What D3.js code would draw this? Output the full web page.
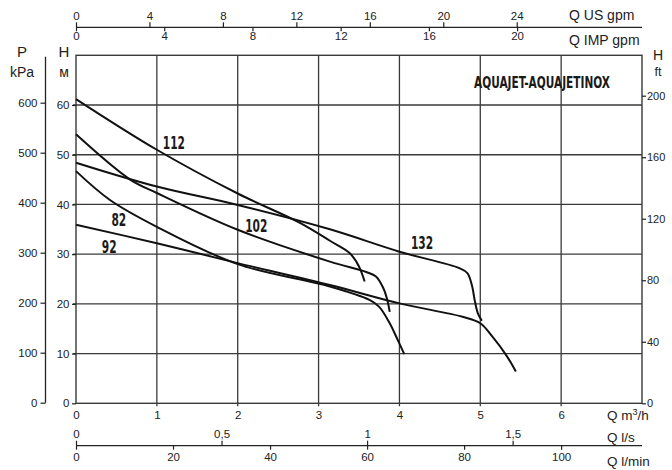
<!DOCTYPE html>
<html>
<head>
<meta charset="utf-8">
<script src="https://cdn.jsdelivr.net/npm/d3@7"></script>
<style>
  body { margin: 0; background: #fff; }
  text { font-family: "Liberation Sans", Arial, sans-serif; fill: #222; }
  .cond { font-family: "DejaVu Sans Condensed", "DejaVu Sans", sans-serif; font-stretch: condensed; fill: #1a1a1a; }
</style>
</head>
<body>
<div id="chart"></div>
<script>
// pump curves, Q in m3/h, H in m
const models = ["82", "92", "102", "112", "132"];
const q82 = [0, 0.42, 1, 2, 3.14, 3.63, 3.75, 3.88, 3.98, 4.06];
const h82 = [46.7, 40.9, 35.5, 28.0, 23.5, 20.8, 19.4, 16.1, 12.7, 9.9];
const q92 = [0, 1, 2, 3.14, 4, 4.78, 5, 5.15, 5.32, 5.44];
const h92 = [35.9, 32.2, 28.2, 23.8, 20.1, 17.4, 16.1, 13.4, 9.7, 6.4];
const q102 = [0, 0.67, 1, 2, 3.14, 3.59, 3.71, 3.8, 3.85, 3.88];
const h102 = [54.1, 45.0, 42.3, 34.9, 28.5, 26.4, 25.5, 23.2, 20.8, 18.4];
const q112 = [0, 1, 2, 2.77, 3.14, 3.38, 3.47, 3.52, 3.57];
const h112 = [61.2, 51.0, 42.2, 36.3, 32.7, 30.3, 28.4, 26.8, 24.5];
const q132 = [0, 1, 2, 3.14, 4, 4.74, 4.84, 4.9, 4.93, 4.97, 5.02];
const h132 = [48.4, 43.6, 39.9, 35.0, 30.5, 27.2, 26.2, 23.5, 20.8, 18.1, 16.6];

// where each model number is written (centre Q, baseline H)
const labelQ = [0.53, 0.41, 2.23, 1.21, 4.28];
const labelH = [35.7, 30.3, 34.4, 51.1, 31.0];

// tick values
const qTicks = [0, 1, 2, 3, 4, 5, 6];
const hTicks = [0, 10, 20, 30, 40, 50, 60];
const kpaTicks = [0, 100, 200, 300, 400, 500, 600];
const ftTicks = [0, 40, 80, 120, 160, 200];
const usTicks = [0, 4, 8, 12, 16, 20, 24];
const impTicks = [0, 4, 8, 12, 16, 20];
const lsTicks = [0, 0.5, 1, 1.5];
const lminTicks = [0, 20, 40, 60, 80, 100];

const curves = [
  { name: "82", q: q82, h: h82 },
  { name: "92", q: q92, h: h92 },
  { name: "102", q: q102, h: h102 },
  { name: "112", q: q112, h: h112 },
  { name: "132", q: q132, h: h132 }
];

const width = 672, height = 470;
const pLeft = 76, pRight = 642, pTop = 55.3, pBottom = 403.3;

const svg = d3.select("#chart").append("svg")
  .attr("width", width).attr("height", height);

// scales
const x = d3.scaleLinear().domain([0, 7]).range([pLeft, pRight]);
const y = d3.scaleLinear().domain([0, 70]).range([pBottom, pTop]);
const yKpa = d3.scaleLinear().domain([0, 600]).range([402.7, 102.7]);
const yFt = d3.scaleLinear().domain([0, 200]).range([pBottom, 95.7]);
const xUs = d3.scaleLinear().domain([0, 7 * 4.403]).range([pLeft, pRight]);
const xImp = d3.scaleLinear().domain([0, 7 * 3.666]).range([pLeft, pRight]);
const xLs = d3.scaleLinear().domain([0, 7 / 3.6]).range([pLeft, pRight]);
const xLmin = d3.scaleLinear().domain([0, 7 * 1000 / 60]).range([pLeft, pRight]);

const gridColor = "#3a3a3a";
const plain = d3.format("d");

// grid
svg.append("g").selectAll("line").data(qTicks.slice(1)).join("line")
  .attr("x1", d => x(d)).attr("x2", d => x(d))
  .attr("y1", pTop).attr("y2", pBottom + 3)
  .attr("stroke", gridColor).attr("stroke-width", 1.3);
svg.append("g").selectAll("line").data(hTicks.slice(1)).join("line")
  .attr("x1", pLeft - 3).attr("x2", pRight)
  .attr("y1", d => y(d)).attr("y2", d => y(d))
  .attr("stroke", gridColor).attr("stroke-width", 1.3);

// frame
svg.append("rect")
  .attr("x", pLeft).attr("y", pTop)
  .attr("width", pRight - pLeft).attr("height", pBottom - pTop)
  .attr("fill", "none").attr("stroke", gridColor).attr("stroke-width", 1.4);

// H m axis (left of frame)
const axH = svg.append("g").attr("transform", `translate(${pLeft},0)`)
  .call(d3.axisLeft(y).tickValues(hTicks).tickFormat(plain).tickSize(4).tickSizeOuter(0));
axH.select(".domain").remove();
axH.selectAll("text").attr("font-size", 11.5).attr("dx", "0.5");

// kPa axis
const axK = svg.append("g").attr("transform", "translate(45.5,0)")
  .call(d3.axisLeft(yKpa).tickValues(kpaTicks).tickFormat(plain).tickSize(5).tickSizeOuter(0));
axK.select(".domain").attr("d", `M0,56.7V402.7`);
axK.selectAll("text").attr("font-size", 11.5);

// ft axis on the right
const axF = svg.append("g").attr("transform", `translate(${pRight},0)`)
  .call(d3.axisRight(yFt).tickValues(ftTicks).tickFormat(plain).tickSize(4).tickSizeOuter(0));
axF.select(".domain").remove();
axF.selectAll("text").attr("font-size", 11).attr("x", 5);

// m3/h labels under the frame
const axQ = svg.append("g").attr("transform", `translate(0,${pBottom})`)
  .call(d3.axisBottom(x).tickValues(qTicks).tickFormat(plain).tickSize(0));
axQ.select(".domain").remove();
axQ.selectAll("text").attr("font-size", 11.5).attr("y", 8);

// l/s and l/min axes share one line
const axLs = svg.append("g").attr("transform", "translate(0,445.7)")
  .call(d3.axisTop(xLs).tickValues(lsTicks).tickSize(5).tickSizeOuter(0)
    .tickFormat(d => String(d).replace(".", ",")));
axLs.select(".domain").attr("d", `M${pLeft},0H${pRight}`);
axLs.selectAll("text").attr("font-size", 11.5).attr("y", -8);
const axLm = svg.append("g").attr("transform", "translate(0,445.7)")
  .call(d3.axisBottom(xLmin).tickValues(lminTicks).tickFormat(plain).tickSize(4).tickSizeOuter(0));
axLm.select(".domain").remove();
axLm.selectAll("text").attr("font-size", 11.5).attr("y", 7);

// US gpm / IMP gpm on top
const axUs = svg.append("g").attr("transform", "translate(0,27.3)")
  .call(d3.axisTop(xUs).tickValues(usTicks).tickFormat(plain).tickSize(5).tickSizeOuter(0));
axUs.select(".domain").attr("d", `M${pLeft},0H${pRight}`);
axUs.selectAll("text").attr("font-size", 11.5).attr("y", -7);
const axImp = svg.append("g").attr("transform", "translate(0,27.3)")
  .call(d3.axisBottom(xImp).tickValues(impTicks).tickFormat(plain).tickSize(4).tickSizeOuter(0));
axImp.select(".domain").remove();
axImp.selectAll("text").attr("font-size", 11.5).attr("y", 5);

svg.selectAll(".tick line").attr("stroke", "#222").attr("stroke-width", 1.2);
svg.selectAll(".domain").attr("stroke", "#222").attr("stroke-width", 1.3);
svg.selectAll(".tick text").attr("fill", "#222").attr("font-family", "Liberation Sans, Arial, sans-serif");

// unit captions
const cap = (tx, ty, str, size, anchor) => svg.append("text")
  .attr("x", tx).attr("y", ty).attr("font-size", size)
  .attr("text-anchor", anchor || "start").text(str);
cap(569, 20, "Q US gpm", 14);
cap(569, 45, "Q IMP gpm", 14);
const qm = cap(607, 420, "Q m", 13.5);
qm.append("tspan").attr("font-size", 9).attr("dy", -5).text("3");
qm.append("tspan").attr("dy", 5).text("/h");
cap(607, 442, "Q l/s", 13.5);
cap(607, 466, "Q l/min", 13.5);
cap(22, 57, "P", 15, "middle");
cap(22, 77, "kPa", 14, "middle");
cap(64, 57, "H", 15, "middle");
cap(64, 77, "м", 14, "middle");
cap(658, 60, "H", 14, "middle");
cap(658, 76, "ft", 12.5, "middle");

// title
svg.append("text").attr("class", "cond")
  .attr("x", 474).attr("y", 88).attr("font-size", 16.5).attr("font-weight", 600)
  .attr("textLength", 136).attr("lengthAdjust", "spacingAndGlyphs")
  .text("AQUAJET-AQUAJETINOX");

// curves
const line = d3.line()
  .x(d => x(d[0])).y(d => y(d[1]))
  .curve(d3.curveCatmullRom.alpha(0.5));

svg.append("g").selectAll("path").data(curves).join("path")
  .attr("d", c => line(c.q.map((qv, i) => [qv, c.h[i]])))
  .attr("fill", "none").attr("stroke", "#111").attr("stroke-width", 2);

// model numbers
svg.append("g").selectAll("text").data(models).join("text")
  .attr("class", "cond")
  .attr("x", (d, i) => x(labelQ[i]) - d.length * 3.7)
  .attr("y", (d, i) => y(labelH[i]))
  .attr("font-size", 18).attr("font-weight", 600)
  .attr("textLength", d => d.length * 7.4)
  .attr("lengthAdjust", "spacingAndGlyphs")
  .text(d => d);
</script>
</body>
</html>
